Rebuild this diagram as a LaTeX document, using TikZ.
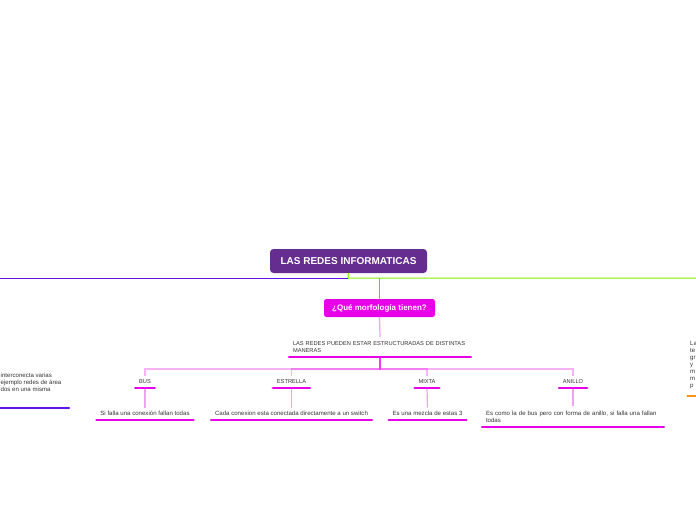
\documentclass[tikz,border=0pt]{standalone}
\usepackage{fontspec}
\setmainfont{Liberation Sans}
\usetikzlibrary{positioning}
\definecolor{titlePurple}{HTML}{662D91}
\definecolor{wanViolet}{HTML}{5E10E8}
\definecolor{lanGreen}{HTML}{80F000}
\definecolor{morphMagenta}{HTML}{E800E8}
\definecolor{stemPink}{HTML}{F3A0F3}
\definecolor{topoOrange}{HTML}{F7941D}
\definecolor{textGray}{HTML}{333333}

\begin{document}
\begin{tikzpicture}[
    x=1pt, y=-1pt,
    titlebox/.style={rectangle, rounded corners=3.5pt, fill=titlePurple, text=white, font=\fontsize{10}{12}\selectfont\bfseries, minimum width=157pt, minimum height=24pt},
    qbox/.style={rectangle, rounded corners=2.5pt, fill=morphMagenta, text=white, font=\fontsize{8}{10}\selectfont\bfseries, minimum width=111pt, minimum height=18pt},
    topic/.style={rectangle, anchor=south, align=left, inner xsep=5pt, inner ysep=3pt, text depth=1.5pt, text=textGray, font=\fontsize{5.7}{6.4}\selectfont},
    leaf/.style={topic, font=\fontsize{6.1}{7}\selectfont},
    twolines/.style={text width=174pt, text depth=, inner ysep=4.5pt},
    bar/.style={line width=2.6pt, line cap=round, draw=morphMagenta},
    branch/.style={draw=morphMagenta, draw opacity=0.3, line width=1.3pt},
    stem/.style={draw=stemPink, line width=1.2pt},
    wanline/.style={draw=wanViolet, line width=1pt},
    lanline/.style={draw=lanGreen, line width=1pt}
]
\clip (0,0) rectangle (696,520);

% central topic and its two main lines
\node[titlebox] (title) at (348.5,261) {LAS REDES INFORMATICAS};
\coordinate (hub) at (348,278);
\coordinate (offL) at (-10,278);
\coordinate (offR) at (706,278);
\draw[lanline] (title.south) -- (hub) -- (offR);
\draw[wanline] (hub) -- (offL);

% question
\node[qbox] (morph) at (379.5,308) {¿Qué morfología tienen?};
\draw[draw=morphMagenta!60, line width=1.8pt] (morph.north) -- (morph.north |- hub);

% main statement
\node[topic, twolines] (ways) at (380,357) {LAS REDES PUEDEN ESTAR ESTRUCTURADAS DE DISTINTAS\\MANERAS};
\draw[stem] (morph.south) -- (ways.north);

% the four types
\node[topic] (bus) at (145,388) {BUS};
\node[topic] (estrella) at (291.5,388) {ESTRELLA};
\node[topic] (mixta) at (427,388) {MIXTA};
\node[topic] (anillo) at (573,388) {ANILLO};
\foreach \t in {bus,estrella,mixta,anillo}
    \draw[branch] (ways.south) -- ++(0,12) -| (\t.north);

% descriptions
\node[leaf] (busTxt) at (145,420) {Si falla una conexión fallan todas};
\node[leaf] (estrellaTxt) at (291.5,420) {Cada conexion esta conectada directamente a un switch};
\node[leaf] (mixtaTxt) at (427.5,420) {Es una mezcla de estas 3};
\node[leaf, twolines] (anilloTxt) at (573,427) {Es como la de bus pero con forma de anillo, si falla una fallan\\todas};
\draw[stem] (bus.south) -- (busTxt.north);
\draw[stem] (estrella.south) -- (estrellaTxt.north);
\draw[stem] (mixta.south) -- (mixtaTxt.north);
\draw[stem] (anillo.south) -- (anilloTxt.north);

\foreach \n in {ways,bus,estrella,mixta,anillo,busTxt,estrellaTxt,mixtaTxt,anilloTxt}
    \draw[bar] (\n.south west) ++(1.3,0) -- ([xshift=-1.3pt]\n.south east);

% side topics, cut by the page edge
\node[leaf, anchor=north west, inner sep=0pt] (wan) at (0.5,373) {interconecta varias\\ejemplo redes de área\\dos en una misma};
\draw[bar, draw=wanViolet] (-10,408) -- (69,408);
\node[leaf, anchor=north west, inner sep=0pt] (topo) at (690,341) {La\\te\\gr\\y\\m\\m\\p};
\draw[bar, draw=topoOrange] (687.5,396) -- (710,396);
\end{tikzpicture}
\end{document}
